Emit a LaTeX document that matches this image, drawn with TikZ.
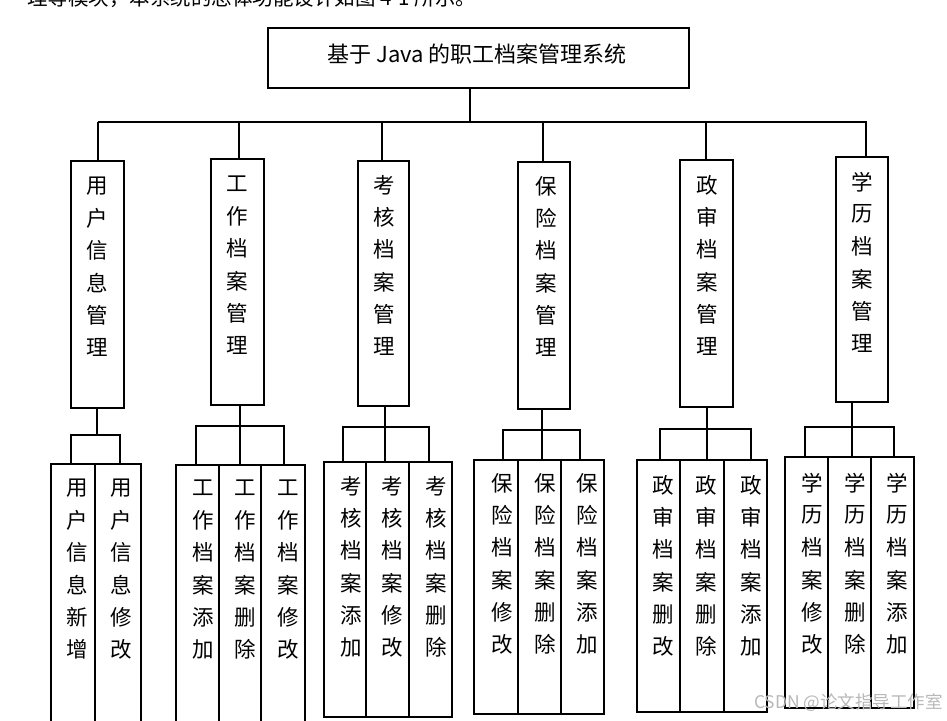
\documentclass[tikz,border=0pt]{standalone}
\usepackage{fontspec}
\newfontfamily\cjk{Noto Sans CJK SC}
\tikzset{
  box/.style={draw, line width=2pt, inner sep=0pt, rectangle, anchor=north west},
  conn/.style={line width=2pt},
  chr/.style={font=\cjk\fontsize{21.5}{22}\selectfont, inner sep=0pt, anchor=center},
  ttl/.style={font=\cjk\fontsize{22}{24}\selectfont, inner sep=0pt},
  para/.style={font=\cjk\fontsize{20.5}{24}\selectfont, inner sep=0pt},
  wm/.style={font=\cjk\fontsize{17.5}{18}\selectfont, inner sep=0pt, text=black!28},
}
\newcommand\bx[5]{%
  \pgfmathsetmacro\bxw{#4-#2}\pgfmathsetmacro\bxh{#5-#3}%
  \node[box, name=#1, minimum width=\bxw pt, minimum height=\bxh pt] at (#2,#3) {};}
\newcommand\vtxt[4]{%
  \foreach \c [count=\i from 0] in {#4} \node[chr, name=#1-\i] at (#2, #3+\i*32.3) {\c};}
\begin{document}
\begin{tikzpicture}[x=1pt,y=-1pt]
\useasboundingbox (0,0) rectangle (947,720);
\clip (0,0) rectangle (947,720);
\fill[white] (0,0) rectangle (947,720);

\node[para, name=intro, anchor=west] at (27,-2) {理等模块，本系统的总体功能设计如图 4-1 所示。};

% title
\bx{T}{267}{27}{688}{87}
\node[ttl, name=ttitle] at (477,54) {基于 Java 的职工档案管理系统};

% level 1 boxes
\bx{A}{70}{160}{123}{407}
\bx{B}{210}{158}{263}{404}
\bx{C}{357}{160}{408}{405}
\bx{D}{517}{161}{569}{408}
\bx{E}{679}{159}{732}{406}
\bx{F}{835}{156}{887}{401}
\vtxt{tA}{97}{186}{用,户,信,息,管,理}
\vtxt{tB}{237}{184}{工,作,档,案,管,理}
\vtxt{tC}{384}{185}{考,核,档,案,管,理}
\vtxt{tD}{546}{186}{保,险,档,案,管,理}
\vtxt{tE}{707}{185}{政,审,档,案,管,理}
\vtxt{tF}{862}{182}{学,历,档,案,管,理}

% trunk and bus
\coordinate (tstem) at (470,122);
\coordinate (busL) at (98,122);
\coordinate (busR) at (867,122);
\draw[conn] (T.south -| tstem) -- (tstem);
\draw[conn] (busL) -- (busR);
\coordinate (sA) at (98,122);
\coordinate (sB) at (239,122);
\coordinate (sC) at (382,122);
\coordinate (sD) at (543,122);
\coordinate (sE) at (706,122);
\coordinate (sF) at (866,122);
\foreach \n in {A,B,C,D,E,F} \draw[conn] (s\n) -- (\n.north -| s\n);

% leaves
\bx{A1}{50}{463}{94}{730}
\bx{A2}{94}{463}{140}{730}
\bx{B1}{175}{464}{218}{730}
\bx{B2}{218}{464}{260}{730}
\bx{B3}{260}{464}{304}{730}
\bx{C1}{323}{461}{365}{716}
\bx{C2}{365}{461}{408}{716}
\bx{C3}{408}{461}{451}{716}
\bx{D1}{473}{459}{517}{713}
\bx{D2}{517}{459}{560}{713}
\bx{D3}{560}{459}{603}{713}
\bx{E1}{636}{459}{679}{711}
\bx{E2}{679}{459}{723}{711}
\bx{E3}{723}{459}{766}{711}
\bx{F1}{784}{456}{827}{707}
\bx{F2}{827}{456}{870}{707}
\bx{F3}{870}{456}{913}{707}

\vtxt{tA1}{77}{488}{用,户,信,息,新,增}
\vtxt{tA2}{121}{488}{用,户,信,息,修,改}
\vtxt{tB1}{203}{488}{工,作,档,案,添,加}
\vtxt{tB2}{245}{488}{工,作,档,案,删,除}
\vtxt{tB3}{288}{488}{工,作,档,案,修,改}
\vtxt{tC1}{351}{486}{考,核,档,案,添,加}
\vtxt{tC2}{392}{486}{考,核,档,案,修,改}
\vtxt{tC3}{436}{486}{考,核,档,案,删,除}
\vtxt{tD1}{502}{483}{保,险,档,案,修,改}
\vtxt{tD2}{545}{483}{保,险,档,案,删,除}
\vtxt{tD3}{587}{483}{保,险,档,案,添,加}
\vtxt{tE1}{663}{485}{政,审,档,案,删,改}
\vtxt{tE2}{706}{485}{政,审,档,案,删,除}
\vtxt{tE3}{751}{485}{政,审,档,案,添,加}
\vtxt{tF1}{812}{483}{学,历,档,案,修,改}
\vtxt{tF2}{855}{483}{学,历,档,案,删,除}
\vtxt{tF3}{897}{483}{学,历,档,案,添,加}

% group connectors
% G1
\coordinate (jA) at (97,435);
\coordinate (lA1) at (71,435);
\coordinate (lA2) at (120,435);
\draw[conn] (A.south -| jA) -- (jA);
\draw[conn] (A1.north -| lA1) -- (lA1) -- (lA2) -- (A2.north -| lA2);
% G2
\coordinate (jB) at (240,426);
\coordinate (lB1) at (196,426);
\coordinate (lB3) at (284,426);
\draw[conn] (B.south -| jB) -- (B2.north -| jB);
\draw[conn] (B1.north -| lB1) -- (lB1) -- (lB3) -- (B3.north -| lB3);
% G3
\coordinate (jC) at (385,427);
\coordinate (lC1) at (343,427);
\coordinate (lC3) at (429,427);
\draw[conn] (C.south -| jC) -- (C2.north -| jC);
\draw[conn] (C1.north -| lC1) -- (lC1) -- (lC3) -- (C3.north -| lC3);
% G4
\coordinate (jD) at (542,430);
\coordinate (lD1) at (503,430);
\coordinate (lD3) at (580,430);
\draw[conn] (D.south -| jD) -- (D2.north -| jD);
\draw[conn] (D1.north -| lD1) -- (lD1) -- (lD3) -- (D3.north -| lD3);
% G5
\coordinate (jE) at (707,429);
\coordinate (lE1) at (660,429);
\coordinate (lE3) at (751,429);
\draw[conn] (E.south -| jE) -- (E2.north -| jE);
\draw[conn] (E1.north -| lE1) -- (lE1) -- (lE3) -- (E3.north -| lE3);
% G6
\coordinate (jF) at (852,427);
\coordinate (lF1) at (805,427);
\coordinate (lF3) at (894,427);
\draw[conn] (F.south -| jF) -- (F2.north -| jF);
\draw[conn] (F1.north -| lF1) -- (lF1) -- (lF3) -- (F3.north -| lF3);

% watermark
\node[wm, name=wmark, anchor=east] at (943,703) {CSDN @论文指导工作室};
\end{tikzpicture}
\end{document}
